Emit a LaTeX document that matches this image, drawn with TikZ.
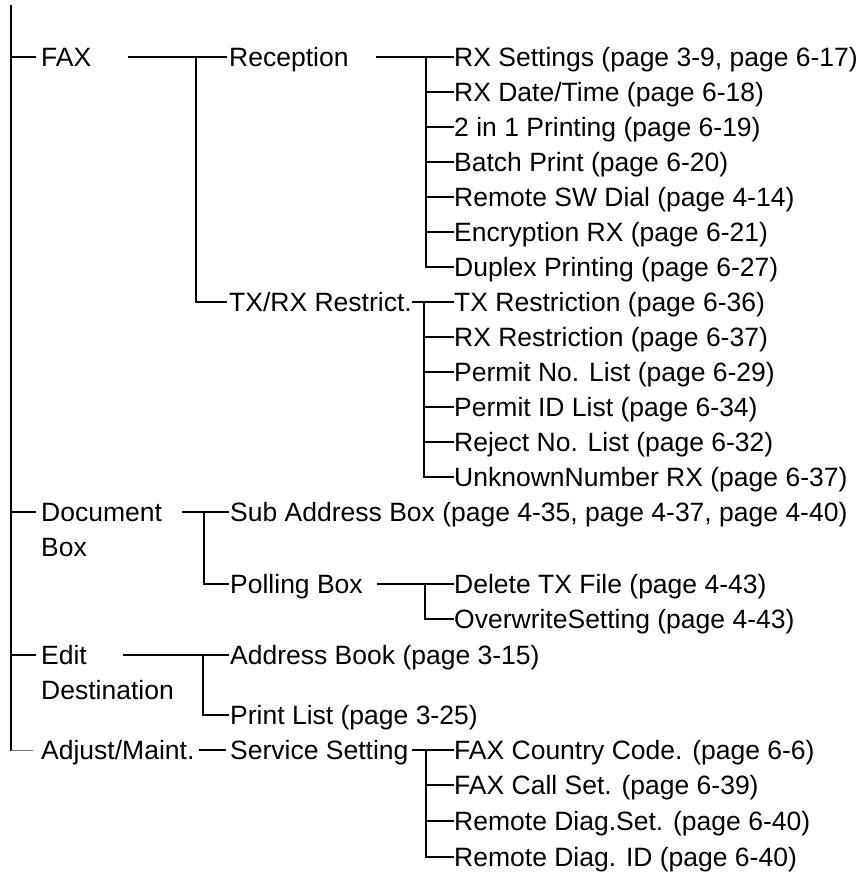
\documentclass[tikz,border=0pt]{standalone}
\usepackage{fontspec}
\setmainfont{Liberation Sans}
\begin{document}
\begin{tikzpicture}[x=1pt,y=-1pt,
  lbl/.style={anchor=west, inner sep=0pt, text height=19pt, text depth=0pt,
    font=\fontsize{26.5}{32}\selectfont},
  br/.style={line width=2pt, line cap=rect},
  thinbr/.style={line width=1pt, black!55}]
\useasboundingbox (0,0) rectangle (866,874);

% level 1
\node[lbl] (fax)  at (41,57)  {FAX};
\node[lbl] (doc)  at (41,512) {Document};
\node[lbl] (docb) at (41,547) {Box};
\node[lbl] (edit) at (41,655) {Edit};
\node[lbl] (editb) at (41,690) {Destination};
\node[lbl] (adj)  at (41,750) {Adjust/Maint.};

% level 2
\node[lbl] (rec)  at (229,57)  {Reception};
\node[lbl] (txrx) at (229,302) {TX/RX Restrict.};
\node[lbl] (sub)  at (230,512) {Sub Address Box (page 4-35, page 4-37, page 4-40)};
\node[lbl] (poll) at (230,584) {Polling Box};
\node[lbl] (addr) at (230,655) {Address Book (page 3-15)};
\node[lbl] (plist) at (230,715) {Print List (page 3-25)};
\node[lbl] (serv) at (230,750) {Service Setting};

% level 3
\node[lbl] (rxs)  at (454,57)  {RX Settings (page 3-9, page 6-17)};
\node[lbl] (rxd)  at (454,92)  {RX Date/Time (page 6-18)};
\node[lbl] (two)  at (454,127) {2 in 1 Printing (page 6-19)};
\node[lbl] (bat)  at (454,162) {Batch Print (page 6-20)};
\node[lbl] (rsw)  at (454,197) {Remote SW Dial (page 4-14)};
\node[lbl] (enc)  at (454,232) {Encryption RX (page 6-21)};
\node[lbl] (dup)  at (454,267) {Duplex Printing (page 6-27)};
\node[lbl] (txr)  at (454,302) {TX Restriction (page 6-36)};
\node[lbl] (rxr)  at (454,337) {RX Restriction (page 6-37)};
\node[lbl] (pno)  at (454,372) {Permit No. List (page 6-29)};
\node[lbl] (pid)  at (454,407) {Permit ID List (page 6-34)};
\node[lbl] (rej)  at (454,442) {Reject No. List (page 6-32)};
\node[lbl] (unk)  at (454,477) {UnknownNumber RX (page 6-37)};
\node[lbl] (del)  at (454,584) {Delete TX File (page 4-43)};
\node[lbl] (ovw)  at (454,619) {OverwriteSetting (page 4-43)};
\node[lbl] (fcc)  at (454,750) {FAX Country Code. (page 6-6)};
\node[lbl] (fcs)  at (454,785) {FAX Call Set. (page 6-39)};
\node[lbl] (rds)  at (454,821) {Remote Diag.Set. (page 6-40)};
\node[lbl] (rdi)  at (454,857) {Remote Diag. ID (page 6-40)};

% root
\coordinate (top) at (11,6);
\draw[br] (top) |- ([xshift=-6pt]fax.west);
\draw[br] (top) |- ([xshift=-6pt]doc.west);
\draw[br] (top) |- ([xshift=-6pt]edit.west);
\draw[br] (top) -- (top |- adj.west);
\draw[thinbr] (top |- adj.west) -- ([xshift=-8pt]adj.west);

% FAX
\coordinate (faxo) at (129,57);
\coordinate (jfax) at (196,57);
\draw[br] (faxo) -- ([xshift=-3pt]rec.west);
\draw[br] (jfax) |- ([xshift=-3pt]txrx.west);

% Reception
\coordinate (reco) at (377,57);
\coordinate (jrec) at (426,57);
\draw[br] (reco) -- ([xshift=-1pt]rxs.west);
\foreach \c in {rxd,two,bat,rsw,enc}
  \draw[br] (jrec |- \c.west) -- ([xshift=-1pt]\c.west);
\draw[br] (jrec) |- ([xshift=-1pt]dup.west);

% TX/RX Restrict.
\coordinate (txo) at (413,302);
\coordinate (jtx) at (424,302);
\draw[br] (txo) -- ([xshift=-1pt]txr.west);
\foreach \c in {rxr,pno,pid,rej}
  \draw[br] (jtx |- \c.west) -- ([xshift=-1pt]\c.west);
\draw[br] (jtx) |- ([xshift=-1pt]unk.west);

% Document Box
\coordinate (doco) at (183,512);
\coordinate (jdoc) at (204,512);
\draw[br] (doco) -- ([xshift=-2pt]sub.west);
\draw[br] (jdoc) |- ([xshift=-2pt]poll.west);

% Polling Box
\coordinate (pollo) at (378,584);
\coordinate (jpoll) at (425,584);
\draw[br] (pollo) -- ([xshift=-1pt]del.west);
\draw[br] (jpoll) |- ([xshift=-1pt]ovw.west);

% Edit Destination
\coordinate (edito) at (124,655);
\coordinate (jedit) at (203,655);
\draw[br] (edito) -- ([xshift=-2pt]addr.west);
\draw[br] (jedit) |- ([xshift=-2pt]plist.west);

% Adjust/Maint.
\coordinate (adjo) at (200,750);
\draw[br] (adjo) -- ([xshift=-5pt]serv.west);

% Service Setting
\coordinate (servo) at (413,750);
\coordinate (jserv) at (426,750);
\draw[br] (servo) -- ([xshift=-1pt]fcc.west);
\foreach \c in {fcs,rds}
  \draw[br] (jserv |- \c.west) -- ([xshift=-1pt]\c.west);
\draw[br] (jserv) |- ([xshift=-1pt]rdi.west);
\end{tikzpicture}
\end{document}
